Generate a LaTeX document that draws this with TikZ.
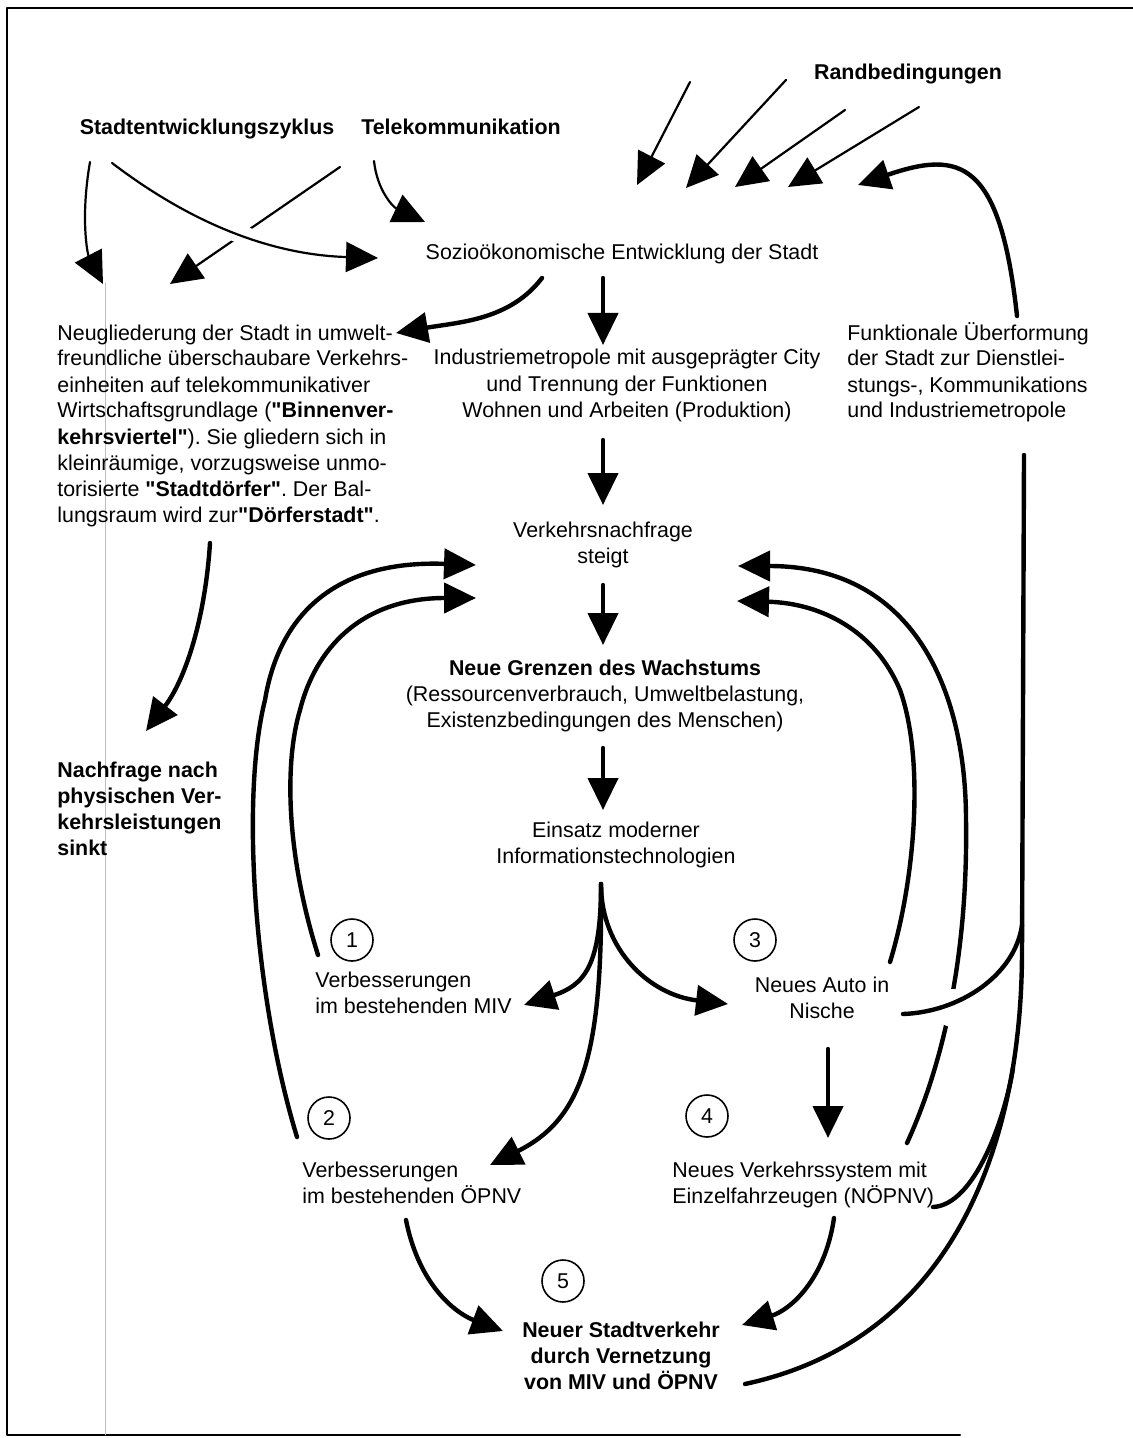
\documentclass[tikz,border=0pt]{standalone}
\usepackage{fontspec}
\setmainfont{Liberation Sans}[Ligatures=TeXOff]
\usetikzlibrary{arrows.meta}
\newcommand\txtfont{\fontsize{10.7pt}{13pt}\selectfont\frenchspacing}
\begin{document}
\begin{tikzpicture}[x=0.5pt,y=-0.5pt,line
				join=round,line
				cap=round,font=\txtfont,>={Triangle[length=16pt,width=15pt]},
				txt/.style={inner sep=0pt,anchor=base},
				lft/.style={inner sep=0pt,anchor=base west,align=left},
				mid/.style={inner sep=0pt,anchor=base,align=center},
				bold/.style={font=\txtfont\bfseries},
				num/.style={circle,draw,line width=0.8pt,minimum size=21pt,inner sep=0pt},
				fat/.style={->,line width=2.2pt},
				slim/.style={->,line width=1.1pt},
				wire/.style={line width=2.2pt}]
				\useasboundingbox (0,0) rectangle (1133,1438);
				\draw[line width=1.2pt] (1133,8)--(7,8)--(7,1435)--(960,1435);
				\draw[black!25,line width=0.4pt] (105,283)--(105,1435);
				\node[txt,bold] (rand) at (908,80) {Randbedingungen};
				\node[txt,bold] (zyklus) at (207,135) {Stadtentwicklungszyklus};
				\node[txt,bold] (tele) at (461,135) {Telekommunikation};
				\node[txt] (sozio) at (622,260) {Sozioökonomische Entwicklung der Stadt};
				\node[lft] (neugl) at (57,522) {Neugliederung der Stadt in umwelt-\\freundliche überschaubare Verkehrs-\\einheiten auf telekommunikativer\\Wirtschaftsgrundlage (\textbf{"Binnenver-}\\\textbf{kehrsviertel"}). Sie gliedern sich in\\kleinräumige, vorzugsweise unmo-\\torisierte \textbf{"Stadtdörfer"}. Der Bal-\\lungsraum wird zur\textbf{"Dörferstadt"}.};
				\node[mid] (indu) at (627,417) {Industriemetropole mit ausgeprägter City\\und Trennung der Funktionen\\Wohnen und Arbeiten (Produktion)};
				\node[lft] (funk) at (847,418) {Funktionale Überformung\\der Stadt zur Dienstlei-\\stungs-, Kommunikations\\und Industriemetropole};
				\node[mid] (verk) at (603,563) {Verkehrsnachfrage\\steigt};
				\node[mid] (grenz) at (605,727) {\textbf{Neue Grenzen des Wachstums}\\(Ressourcenverbrauch, Umweltbelastung,\\Existenzbedingungen des Menschen)};
				\node[lft,bold] (sinkt) at (57,855) {Nachfrage nach\\physischen Ver-\\kehrsleistungen\\sinkt};
				\node[mid] (eins) at (616,863) {Einsatz moderner\\Informationstechnologien};
				\node[lft] (miv) at (315,1013) {Verbesserungen\\im bestehenden MIV};
				\node[mid] (auto) at (822,1018) {Neues Auto in\\Nische};
				\node[lft] (oepnv) at (302,1203) {Verbesserungen\\im bestehenden ÖPNV};
				\node[lft] (noepnv) at (672,1203) {Neues Verkehrssystem mit\\Einzelfahrzeugen (NÖPNV)};
				\node[mid,bold] (stadtv) at (621,1389) {Neuer Stadtverkehr\\durch Vernetzung\\von MIV und ÖPNV};
				\node[num] (n1) at (352,940) {1};
				\node[num] (n2) at (329,1118) {2};
				\node[num] (n3) at (755,940) {3};
				\node[num] (n4) at (707,1116) {4};
				\node[num] (n5) at (563,1281) {5};
				\path (690,82) coordinate (r1s) (637,185) coordinate (r1t)
				(786,80) coordinate (r2s) (686,188) coordinate (r2t)
				(845,110) coordinate (r3s) (735,187) coordinate (r3t)
				(919,107) coordinate (r4s) (788,187) coordinate (r4t)
				(1017,316) coordinate (r5s) (858,185) coordinate (r5t);
				\draw[slim] (r1s)--(r1t);
				\draw[slim] (r2s)--(r2t);
				\draw[slim] (r3s)--(r3t);
				\draw[slim] (r4s)--(r4t);
				\draw[fat] (r5s) .. controls (1000,160) and (960,150) .. (r5t);
				\path (90,162) coordinate (z1s) (103,284) coordinate (z1t)
				(112,163) coordinate (z2s) (378,258) coordinate (z2t)
				(340,167) coordinate (t1s) (170,284) coordinate (t1t)
				(374,161) coordinate (t2s) (425,222) coordinate (t2t);
				\draw[slim] (t1s)--(t1t);
				\draw[slim,preaction={draw,-,white,line width=9pt}] (z2s) .. controls (200,230) and (280,255) .. (z2t);
				\draw[slim] (z1s) .. controls (80,220) and (88,255) .. (z1t);
				\draw[slim] (t2s) .. controls (377,190) and (393,207) .. (t2t);
				\path (542,278) coordinate (s1s) (396,333) coordinate (s1t)
				(603,278) coordinate (s2s) (603,345) coordinate (s2t)
				(603,440) coordinate (i1) (603,505) coordinate (i2)
				(603,585) coordinate (v1) (603,645) coordinate (v2)
				(603,748) coordinate (g1) (603,810) coordinate (g2);
				\draw[fat] (s1s) .. controls (510,320) and (460,322) .. (s1t);
				\draw[fat] (s2s)--(s2t);
				\draw[fat] (i1)--(i2);
				\draw[fat] (v1)--(v2);
				\draw[fat] (g1)--(g2);
				\path (601,884) coordinate (e0) (524,1005) coordinate (e1)
				(490,1165) coordinate (e2) (728,1004) coordinate (e3);
				\draw[fat] (e0) .. controls (601,965) and (585,985) .. (e1);
				\draw[fat] (e0) .. controls (601,950) and (650,995) .. (e3);
				\draw[fat] (e0) .. controls (603,1060) and (580,1120) .. (e2);
				\path (828,1049) coordinate (a1) (828,1138) coordinate (a2)
				(406,1220) coordinate (o1) (503,1331) coordinate (o2)
				(834,1218) coordinate (p1) (742,1325) coordinate (p2);
				\draw[fat] (a1)--(a2);
				\draw[fat] (o1) .. controls (420,1290) and (460,1315) .. (o2);
				\draw[fat] (p1) .. controls (825,1280) and (790,1310) .. (p2);
				\path (745,1384) coordinate (sv) (1022,950) coordinate (k1) (1024,455) coordinate (fk)
				(903,1014) coordinate (ni) (1022,925) coordinate (k2)
				(933,1207) coordinate (np) (1013,1068) coordinate (k3);
				\draw[wire] (sv) .. controls (950,1340) and (1022,1150) .. (k1)--(fk);
				\draw[wire] (np) .. controls (975,1205) and (1005,1118) .. (k3);
				\path (890,962) coordinate (q1) (737,601) coordinate (q2)
				(907,1143) coordinate (u1) (738,566) coordinate (u2);
				\draw[fat] (q1) .. controls (915,880) and (925,760) .. (900,690) .. controls (875,630) and (820,603) .. (q2);
				\draw[fat] (u1) .. controls (945,1060) and (968,950) .. (966,820) .. controls (966,700) and (920,566) .. (u2);
				\fill[white] (953,1008) circle (19);
				\draw[wire] (ni) .. controls (960,1012) and (1015,975) .. (k2);
				\path (297,1137) coordinate (w1) (476,565) coordinate (w2)
				(318,955) coordinate (m1) (476,598) coordinate (m2)
				(210,543) coordinate (d1) (146,731) coordinate (d2);
				\draw[fat] (w1) .. controls (255,1000) and (240,800) .. (265,700) .. controls (280,610) and (340,560) .. (w2);
				\draw[fat] (m1) .. controls (285,850) and (285,760) .. (300,710) .. controls (315,650) and (360,598) .. (m2);
				\draw[fat] (d1) .. controls (205,620) and (185,680) .. (d2);
			\end{tikzpicture}
\end{document}
